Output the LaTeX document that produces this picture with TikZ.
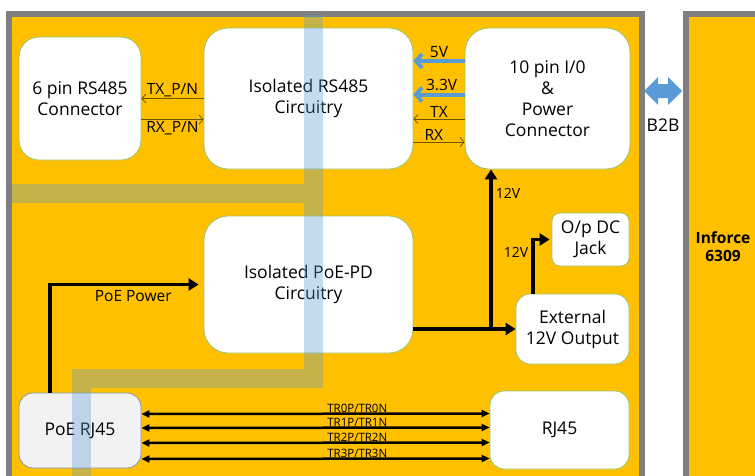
\documentclass[tikz,border=0pt]{standalone}
\usepackage{fontspec}
\setmainfont{Open Sans}
\usetikzlibrary{arrows.meta}

\definecolor{boardorange}{HTML}{FFC000}
\definecolor{boardgrey}{HTML}{7F7F7F}
\definecolor{boxgreen}{HTML}{9CC46A}
\definecolor{railblue}{HTML}{5B9BD5}
\definecolor{sigbrown}{HTML}{6B5500}
\definecolor{rjfill}{HTML}{F2F2F2}
\definecolor{rjedge}{HTML}{8497B0}

\begin{document}
\begin{tikzpicture}[
        x=1pt, y=-1pt,
        block/.style={
            rectangle,
            rounded corners=22pt,
            draw=boxgreen,
            fill=white,
            line width=0.8pt,
            inner sep=0pt,
            align=center,
            font=\fontsize{17.5}{21}\selectfont
        },
        lbl/.style={font=\fontsize{15.5}{17}\selectfont, inner sep=1.5pt},
        smalllbl/.style={font=\fontsize{14}{16}\selectfont, inner sep=3pt},
        trlbl/.style={font=\fontsize{11.5}{12}\selectfont, inner sep=0.3pt},
        sig/.style={draw=sigbrown, line width=0.8pt, -{Straight Barb[length=4pt,width=9pt]}},
        rail/.style={draw=railblue, line width=4pt, -{Straight Barb[length=6pt,width=14pt]}},
        pwr/.style={draw=black, line width=3.5pt, -{Triangle[length=10pt,width=12pt]}},
        pair/.style={draw=black, line width=2.5pt, {Triangle[length=8pt,width=7pt]}-{Triangle[length=8pt,width=7pt]}},
        band/.style={draw=railblue, line width=19pt, opacity=0.35, line join=miter}
    ]

    \useasboundingbox (0,0) rectangle (755,475);
    \clip (0,0) rectangle (755,475);

    % Placas
    \draw[draw=boardgrey, line width=6pt, fill=boardorange] (9,14) rectangle (641.5,495);
    \draw[draw=boardgrey, line width=6pt, fill=boardorange] (685.5,14) rectangle (800,495);

    % Bloques
    \node[block, minimum width=122pt, minimum height=123pt, rounded corners=20pt] (conn6) at (80,98.5)    {6 pin RS485\\Connector};
    \node[block, minimum width=209pt, minimum height=141pt, rounded corners=24pt] (isors) at (308.5,98.5) {Isolated RS485\\Circuitry};
    \node[block, minimum width=165pt, minimum height=141pt, rounded corners=24pt] (io10)  at (547.5,98.5) {10 pin I/0\\\&\\Power\\Connector};
    \node[block, minimum width=209pt, minimum height=137pt, rounded corners=24pt] (poepd) at (308.5,284.5) {Isolated PoE-PD\\Circuitry};
    \node[block, minimum width=77pt,  minimum height=53pt,  rounded corners=8pt]  (dcjack) at (590.5,239.5) {O/p DC\\Jack};
    \node[block, minimum width=113pt, minimum height=70pt,  rounded corners=14pt] (ext12) at (572.5,329)  {External\\12V Output};
    \node[block, minimum width=122pt, minimum height=75pt,  rounded corners=14pt, draw=rjedge, fill=rjfill] (poerj) at (80,430.5) {PoE RJ45};
    \node[block, minimum width=139pt, minimum height=78pt,  rounded corners=14pt] (rj45)  at (559.5,430) {RJ45};

    % Franja de aislamiento
    \draw[band] (12,193) -- (313,193) (313,15) -- (313,378) -- (81,378) -- (81,495);

    % Placa Inforce y B2B
    \node[font=\bfseries\fontsize{15.5}{18}\selectfont, align=center] (inforce) at (723,247) {Inforce\\6309};
    \fill[railblue] (644,91) -- (658,77) -- (658,84) -- (668,84) -- (668,77) -- (682,91)
        -- (668,105) -- (668,98) -- (658,98) -- (658,105) -- cycle;
    \node[font=\fontsize{17.5}{20}\selectfont] (b2b) at (663,125) {B2B};

    % Señales RS485
    \draw[sig] (isors.west) -- (conn6.east) node[lbl, midway, above] {TX\_P/N};
    \draw[sig] ([yshift=-21pt]conn6.east) -- ([yshift=-21pt]isors.west) node[lbl, midway, below] {RX\_P/N};

    % Alimentación y señales del conector de 10 pines
    \draw[rail] ([yshift=37.5pt]io10.west) -- ([yshift=37.5pt]isors.east) node[lbl, midway, above] {5V};
    \draw[rail] ([yshift=4pt]io10.west) -- ([yshift=4pt]isors.east) node[lbl, pos=0.45, above] {3.3V};
    \draw[sig] ([yshift=-20.5pt]io10.west) -- ([yshift=-20.5pt]isors.east) node[lbl, midway, above] {TX};
    \draw[sig] ([yshift=-43.5pt]isors.east) -- ([yshift=-43.5pt]io10.west) node[lbl, pos=0.4, above] {RX};

    % Potencia
    \coordinate (j12) at (491,328);
    \draw[pwr] ([xshift=-30pt]poerj.north) |- ([xshift=-5pt]poepd.west) node[lbl, pos=0.78, below, inner sep=4pt] {PoE Power};
    \draw[pwr] (poepd.east |- ext12.west) -- (ext12.west);
    \draw[pwr] (j12) -- (io10.south -| j12) node[smalllbl, pos=0.85, right] {12V};
    \draw[pwr] ([xshift=-39.5pt]ext12.north) |- ([xshift=-2pt]dcjack.west) node[smalllbl, pos=0.38, left] {12V};

    % Pares Ethernet
    \foreach \sh/\txt in {16.5/{TR0P/TR0N}, 2.5/{TR1P/TR1N}, -12.5/{TR2P/TR2N}, -28.5/{TR3P/TR3N}} {
        \draw[pair] ([yshift=\sh pt]poerj.east) -- ([yshift=\sh pt]rj45.west) node[trlbl, pos=0.62, above] {\txt};
    }

    \end{tikzpicture}
\end{document}
